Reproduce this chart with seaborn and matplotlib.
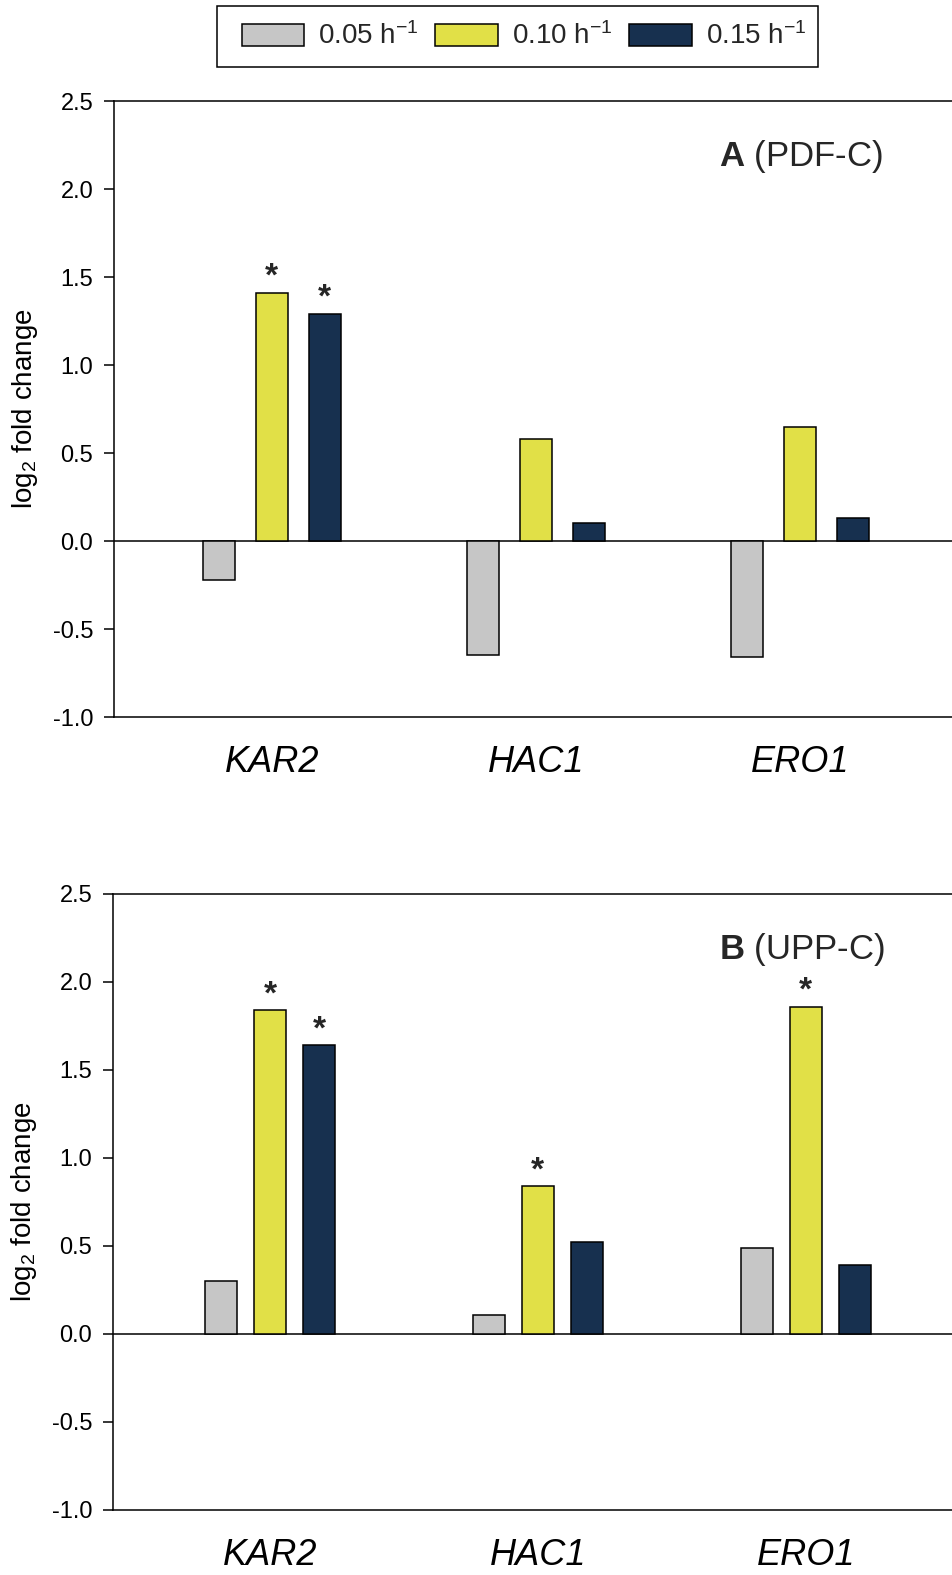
import matplotlib
matplotlib.use("Agg")
import matplotlib.pyplot as plt
from matplotlib.patches import Rectangle
import numpy as np
import pandas as pd
import seaborn as sns

# ---- data -------------------------------------------------------------
genes = ["KAR2", "HAC1", "ERO1"]
rates = ["0.05 h$^{-1}$", "0.10 h$^{-1}$", "0.15 h$^{-1}$"]
colors = ["#C6C6C6", "#E1E047", "#17304F"]

# log2 fold change, PDF-C strain (panel A), one list per dilution rate
pdf_005 = [-0.22, -0.65, -0.66]
pdf_010 = [1.41, 0.58, 0.65]
pdf_015 = [1.29, 0.10, 0.13]
# significance markers for panel A
pdf_sig_005 = [False, False, False]
pdf_sig_010 = [True, False, False]
pdf_sig_015 = [True, False, False]

# log2 fold change, UPP-C strain (panel B)
upp_005 = [0.30, 0.11, 0.49]
upp_010 = [1.84, 0.84, 1.86]
upp_015 = [1.64, 0.52, 0.39]
upp_sig_005 = [False, False, False]
upp_sig_010 = [True, True, True]
upp_sig_015 = [True, False, False]

panel_titles = [r"$\mathbf{A}$ (PDF-C)", r"$\mathbf{B}$ (UPP-C)"]
yticks = [-1.0, -0.5, 0.0, 0.5, 1.0, 1.5, 2.0, 2.5]


def long_table(v1, v2, v3):
    rows = []
    for rate, vals in zip(rates, [v1, v2, v3]):
        for g, v in zip(genes, vals):
            rows.append({"gene": g, "rate": rate, "value": v})
    return pd.DataFrame(rows)


df_a = long_table(pdf_005, pdf_010, pdf_015)
df_b = long_table(upp_005, upp_010, upp_015)
sig_a = [pdf_sig_005, pdf_sig_010, pdf_sig_015]
sig_b = [upp_sig_005, upp_sig_010, upp_sig_015]

# ---- style --------------------------------------------------------------
sns.set_theme(style="ticks")
plt.rcParams["font.family"] = ["Liberation Sans", "DejaVu Sans"]
plt.rcParams["mathtext.fontset"] = "custom"
plt.rcParams["mathtext.rm"] = "Liberation Sans"
plt.rcParams["mathtext.it"] = "Liberation Sans:italic"
plt.rcParams["mathtext.bf"] = "Liberation Sans:bold"
plt.rcParams["axes.unicode_minus"] = False

W, H = 953, 1575
fig = plt.figure(figsize=(W / 100, H / 100), dpi=100)

# axes rectangles in pixels: left, top, bottom
boxes = [(114, 101, 717), (113, 894, 1510)]
widths = [(0.6, 0.4), (0.55, 0.35)]
xlims = [(-0.598, 2.58), (-0.586, 2.55)]

axes = []
for (left, top, bottom), (bw, gp), xl, df, sig, title in zip(
        boxes, widths, xlims, [df_a, df_b], [sig_a, sig_b], panel_titles):
    ax = fig.add_axes([left / W, 1 - bottom / H, 1 - left / W, (bottom - top) / H])
    sns.barplot(data=df, x="gene", y="value", hue="rate", order=genes,
                hue_order=rates, palette=colors, width=bw, gap=gp,
                edgecolor="black", linewidth=1.1, saturation=1, ax=ax)
    ax.axhline(0, color="black", lw=1.1, zorder=0.5)
    ax.set_ylim(-1.0, 2.5)
    ax.set_xlim(*xl)
    ax.set_yticks(yticks)
    ax.set_yticklabels([f"{t:.1f}" for t in yticks], fontsize=17)
    ax.set_xticks(range(len(genes)))
    ax.set_xticklabels(genes, fontsize=26, fontstyle="italic")
    ax.tick_params(axis="y", direction="out", length=7, width=1.1, pad=8,
                   colors="black")
    ax.tick_params(axis="x", length=0, pad=20, colors="black")
    for s in ["left", "top", "bottom"]:
        ax.spines[s].set_color("black")
        ax.spines[s].set_linewidth(1.1)
    ax.spines["right"].set_visible(False)
    ax.set_xlabel("")
    ax.set_ylabel("log$_2$ fold change", fontsize=20, color="black")
    ax.yaxis.set_label_coords(-0.088, 0.5)

    # significance asterisks above the marked bars
    for h, cont in enumerate(ax.containers):
        for g, patch in enumerate(cont.patches):
            if sig[h][g]:
                xc = patch.get_x() + patch.get_width() / 2
                yv = patch.get_height()
                ax.annotate("*", (xc, yv), xytext=(0, 0),
                            textcoords="offset points", ha="center",
                            va="bottom", fontsize=24, fontweight="bold")

    ax.text(0.721, 0.91, title, transform=ax.transAxes, fontsize=25,
            ha="left", va="center")
    axes.append(ax)

# shared legend across the top
handles, labels = axes[0].get_legend_handles_labels()
for ax in axes:
    if ax.get_legend() is not None:
        ax.get_legend().remove()
fig.legend(handles, labels, loc="center", bbox_to_anchor=(524 / W, 1 - 36.5 / H),
           ncol=3, frameon=False, fontsize=20, handlelength=2.25,
           handleheight=0.85, handletextpad=0.5, columnspacing=0.6,
           borderpad=0)
fig.add_artist(Rectangle((217 / W, 1 - 67 / H), (818 - 217) / W, 61 / H,
                         transform=fig.transFigure, fill=False,
                         edgecolor="black", linewidth=1.1))

fig.savefig("out.png", dpi=100)
